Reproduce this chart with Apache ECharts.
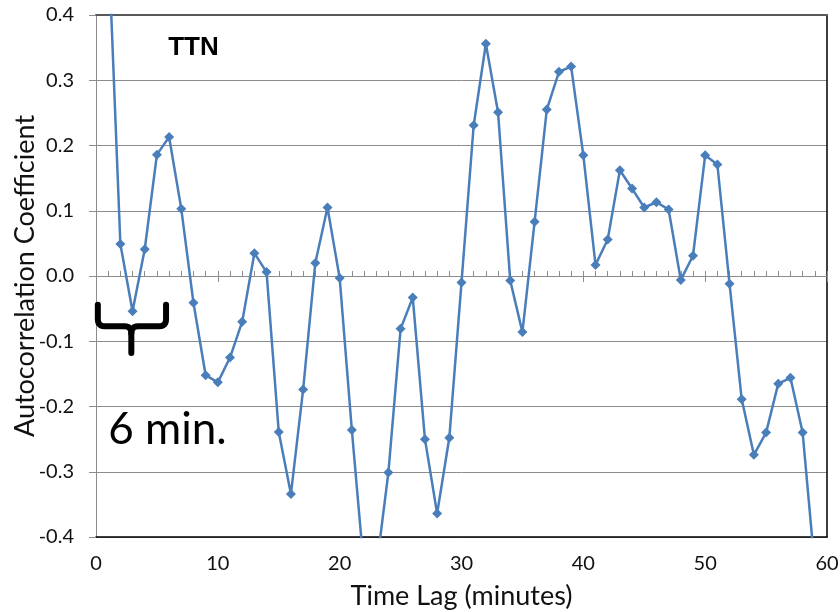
<!DOCTYPE html>
<html>
<head>
<meta charset="utf-8">
<script src="https://cdn.jsdelivr.net/npm/echarts@6/dist/echarts.min.js"></script>
<style>
  html, body { margin: 0; padding: 0; background: #fff; }
  #main { width: 840px; height: 612px; }
</style>
</head>
<body>
<div id="main"></div>
<script>
// time lag (minutes)
var lags = [1, 2, 3, 4, 5, 6, 7, 8, 9, 10,
            11, 12, 13, 14, 15, 16, 17, 18, 19, 20,
            21, 22, 23, 24, 25, 26, 27, 28, 29, 30,
            31, 32, 33, 34, 35, 36, 37, 38, 39, 40,
            41, 42, 43, 44, 45, 46, 47, 48, 49, 50,
            51, 52, 53, 54, 55, 56, 57, 58, 59];
// autocorrelation coefficient, TTN
var acf = [0.52, 0.049, -0.054, 0.041, 0.186, 0.213, 0.103, -0.041, -0.152, -0.163,
           -0.125, -0.070, 0.035, 0.006, -0.239, -0.334, -0.174, 0.020, 0.105, -0.003,
           -0.236, -0.45, -0.45, -0.301, -0.081, -0.033, -0.250, -0.364, -0.248, -0.010,
           0.231, 0.356, 0.251, -0.007, -0.086, 0.083, 0.255, 0.313, 0.321, 0.185,
           0.017, 0.056, 0.162, 0.134, 0.105, 0.113, 0.102, -0.006, 0.031, 0.185,
           0.171, -0.012, -0.189, -0.274, -0.240, -0.165, -0.156, -0.240, -0.447];

var font = 'Lato';
var gridGray = '#8c8c8c';

var myChart = echarts.init(document.getElementById('main'));

var option = {
    animation: false,
    grid: { left: 96, right: 13, top: 15, bottom: 75, outerBoundsMode: 'none', containLabel: false },
    xAxis: [
        {   // bottom axis with labels
            type: 'value', min: 0, max: 60, interval: 10, position: 'bottom',
            axisLine: { onZero: false, lineStyle: { color: '#000', width: 1.5 } },
            axisTick: { show: false },
            axisLabel: { fontSize: 20, color: '#111', margin: 17, fontFamily: font },
            splitLine: { show: false },
            name: 'Time Lag (minutes)', nameLocation: 'middle', nameGap: 46,
            nameTextStyle: { fontSize: 27, color: '#111', fontFamily: font }
        },
        {   // axis line through zero, small ticks
            type: 'value', min: 0, max: 60, interval: 1, position: 'bottom',
            axisLine: { onZero: true, onZeroAxisIndex: 0, lineStyle: { color: gridGray } },
            axisTick: { inside: true, length: 5, lineStyle: { color: gridGray } },
            axisLabel: { show: false },
            splitLine: { show: false }
        },
        {   // major ticks below zero line
            type: 'value', min: 0, max: 60, interval: 10, position: 'bottom',
            axisLine: { show: false, onZero: true, onZeroAxisIndex: 0 },
            axisTick: { inside: false, length: 6, lineStyle: { color: gridGray } },
            axisLabel: { show: false },
            splitLine: { show: false }
        },
        {   // top frame
            type: 'value', min: 0, max: 60, position: 'top',
            axisLine: { onZero: false, lineStyle: { color: '#595959', width: 2 } },
            axisTick: { show: false }, axisLabel: { show: false }, splitLine: { show: false }
        }
    ],
    yAxis: [
        {
            type: 'value', min: -0.4, max: 0.4, interval: 0.1, position: 'left',
            axisLine: { show: true, onZero: false, lineStyle: { color: gridGray } },
            axisTick: { show: true, length: 7, lineStyle: { color: gridGray } },
            axisLabel: {
                fontSize: 20, color: '#111', margin: 22, fontFamily: font,
                formatter: function (v) { return Math.abs(v) < 1e-9 ? '0.0' : v.toFixed(1); }
            },
            splitLine: { lineStyle: { color: gridGray, width: 1 } },
            name: 'Autocorrelation Coefficient', nameLocation: 'middle', nameGap: 57,
            nameMoveOverlap: false,
            nameTextStyle: { fontSize: 27, color: '#111', fontFamily: font }
        },
        {   // right frame
            type: 'value', min: -0.4, max: 0.4, position: 'right',
            axisLine: { show: true, onZero: false, lineStyle: { color: '#000', width: 1.5 } },
            axisTick: { show: false }, axisLabel: { show: false }, splitLine: { show: false }
        }
    ],
    series: [{
        name: 'TTN',
        type: 'line',
        xAxisIndex: 0,
        yAxisIndex: 0,
        data: lags.map(function (l, i) { return [l, acf[i]]; }),
        symbol: 'diamond',
        symbolSize: 10,
        clip: true,
        lineStyle: { color: '#4a7ebb', width: 2.5 },
        itemStyle: { color: '#4a7ebb' },
        z: 5
    }]
};

myChart.setOption(option);

// annotations: TTN label, brace over 6 minutes, "6 min." text
function pt(x, y) {
    return myChart.convertToPixel({ xAxisIndex: 0, yAxisIndex: 0 }, [x, y]);
}
// quadratic curve points
function quad(p0, c, p1) {
    var out = [];
    for (var t = 0; t <= 1.0001; t += 0.2) {
        var u = 1 - t;
        out.push([u * u * p0[0] + 2 * u * t * c[0] + t * t * p1[0],
                  u * u * p0[1] + 2 * u * t * c[1] + t * t * p1[1]]);
    }
    return out;
}
var a = pt(0.15, -0.044), b = pt(5.75, -0.077), m = pt(2.9, -0.118);
var r = 7;
var yTop = a[1], barY = b[1], xl = a[0], xr = b[0], xm = m[0], yb = m[1];

var leftHalf = [[xl, yTop]]
    .concat(quad([xl, barY - r], [xl, barY], [xl + r, barY]))
    .concat(quad([xm - r, barY], [xm, barY], [xm, barY + r]))
    .concat([[xm, yb]]);
var rightHalf = [[xr, yTop]]
    .concat(quad([xr, barY - r], [xr, barY], [xr - r, barY]))
    .concat(quad([xm + r, barY], [xm, barY], [xm, barY + r]));

var ttnPos = pt(8.0, 0.350);
var minPos = pt(1.0, -0.27);
var braceStyle = { fill: null, stroke: '#000', lineWidth: 6, lineCap: 'round', lineJoin: 'round' };

myChart.setOption({
    graphic: [
        {
            type: 'text', x: ttnPos[0], y: ttnPos[1], z: 10,
            style: { text: 'TTN', fontSize: 26, fontWeight: 'bold', fontFamily: 'Liberation Sans',
                     fill: '#000', align: 'center', verticalAlign: 'middle' }
        },
        { type: 'polyline', z: 10, shape: { points: leftHalf }, style: braceStyle },
        { type: 'polyline', z: 10, shape: { points: rightHalf }, style: braceStyle },
        {
            type: 'text', x: minPos[0], y: minPos[1], z: 10,
            style: { text: '6 min.', fontSize: 44, fontFamily: font, fill: '#000',
                     align: 'left', verticalAlign: 'bottom' }
        }
    ]
});
</script>
</body>
</html>
